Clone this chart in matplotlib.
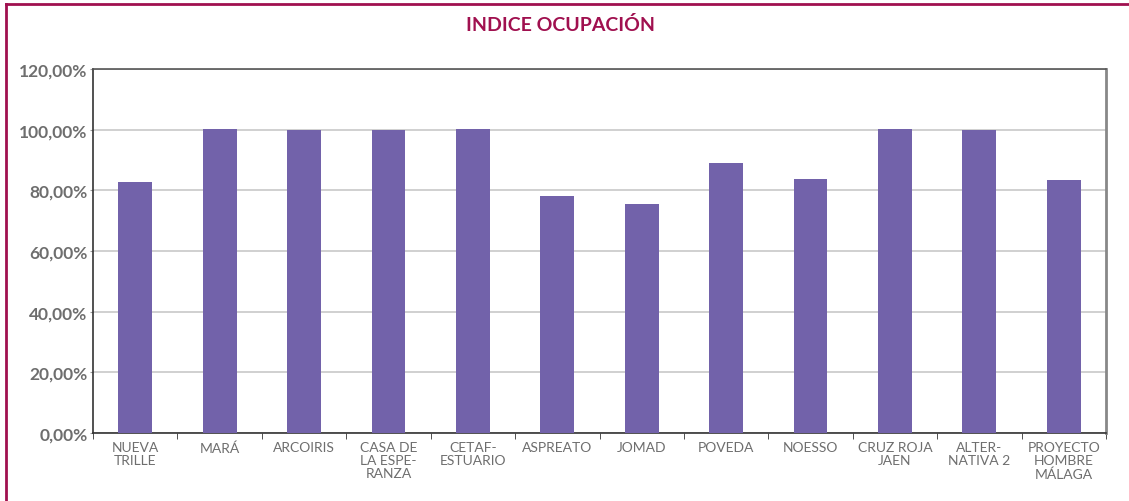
import matplotlib
matplotlib.use("Agg")
import matplotlib.pyplot as plt
import numpy as np
from matplotlib.ticker import FuncFormatter, FixedLocator

CATEGORIES = [
    "NUEVA\nTRILLE", "MARÁ", "ARCOIRIS", "CASA DE\nLA ESPE-\nRANZA",
    "CETAF-\nESTUARIO", "ASPREATO", "JOMAD", "POVEDA", "NOESSO",
    "CRUZ ROJA\nJAEN", "ALTER-\nNATIVA 2", "PROYECTO\nHOMBRE\nMÁLAGA",
]
OCUPACION = [82.8, 100.2, 99.9, 99.9, 100.2, 78.1, 75.5, 89.0, 83.7, 100.2, 99.9, 83.4]
Y_TICKS = [0, 20, 40, 60, 80, 100, 120]

BAR_COLOR = "#7262aa"
FRAME_COLOR = "#a0104f"
TEXT_GRAY = "#6e6e6e"

plt.rcParams["font.family"] = ["Lato", "DejaVu Sans"]

fig = plt.figure(figsize=(11.29, 5.02), dpi=100)
W, H = 1129, 502
ax = fig.add_axes([93 / W, 1 - 434 / H, (1106 - 93) / W, (434 - 70) / H])

x = np.arange(len(CATEGORIES))
ax.bar(x, OCUPACION, width=0.4, color=BAR_COLOR, zorder=3)

ax.set_xlim(-0.5, len(CATEGORIES) - 0.5)
ax.set_ylim(0, 120)
ax.set_yticks(Y_TICKS)
ax.yaxis.set_major_formatter(FuncFormatter(lambda v, _: f"{v:.2f}%".replace(".", ",")))
ax.grid(axis="y", color="#c8c8c8", linewidth=1.2, zorder=0)

ax.set_xticks(x)
ax.set_xticklabels(CATEGORIES, fontsize=10, color=TEXT_GRAY, linespacing=1.1)
ax.tick_params(axis="x", length=0, pad=6)
ax.xaxis.set_minor_locator(FixedLocator(np.arange(len(CATEGORIES) + 1) - 0.5))
ax.tick_params(axis="x", which="minor", length=4, color="#333333", direction="out")

ax.tick_params(axis="y", length=2, color="#999999", pad=2)
for lbl in ax.get_yticklabels():
    lbl.set_fontsize(12.5)
    lbl.set_fontweight("bold")
    lbl.set_color(TEXT_GRAY)

for side in ("left", "bottom"):
    ax.spines[side].set_color("#333333")
    ax.spines[side].set_linewidth(1.2)
ax.spines["top"].set_color("#555555")
ax.spines["top"].set_linewidth(1.2)
ax.spines["right"].set_color("#888888")
ax.spines["right"].set_linewidth(2)

fig.text(560 / W, 1 - 25 / H, "INDICE OCUPACIÓN", ha="center", va="center",
         fontsize=14, fontweight="bold", color=FRAME_COLOR)

# outer frame: top and left edges
fig.add_artist(plt.Line2D([6 / W, 1], [1 - 5 / H, 1 - 5 / H], color=FRAME_COLOR,
                          linewidth=2, transform=fig.transFigure))
fig.add_artist(plt.Line2D([6 / W, 6 / W], [0, 1 - 5 / H], color=FRAME_COLOR,
                          linewidth=2, transform=fig.transFigure))

fig.savefig("out.png", dpi=100)
